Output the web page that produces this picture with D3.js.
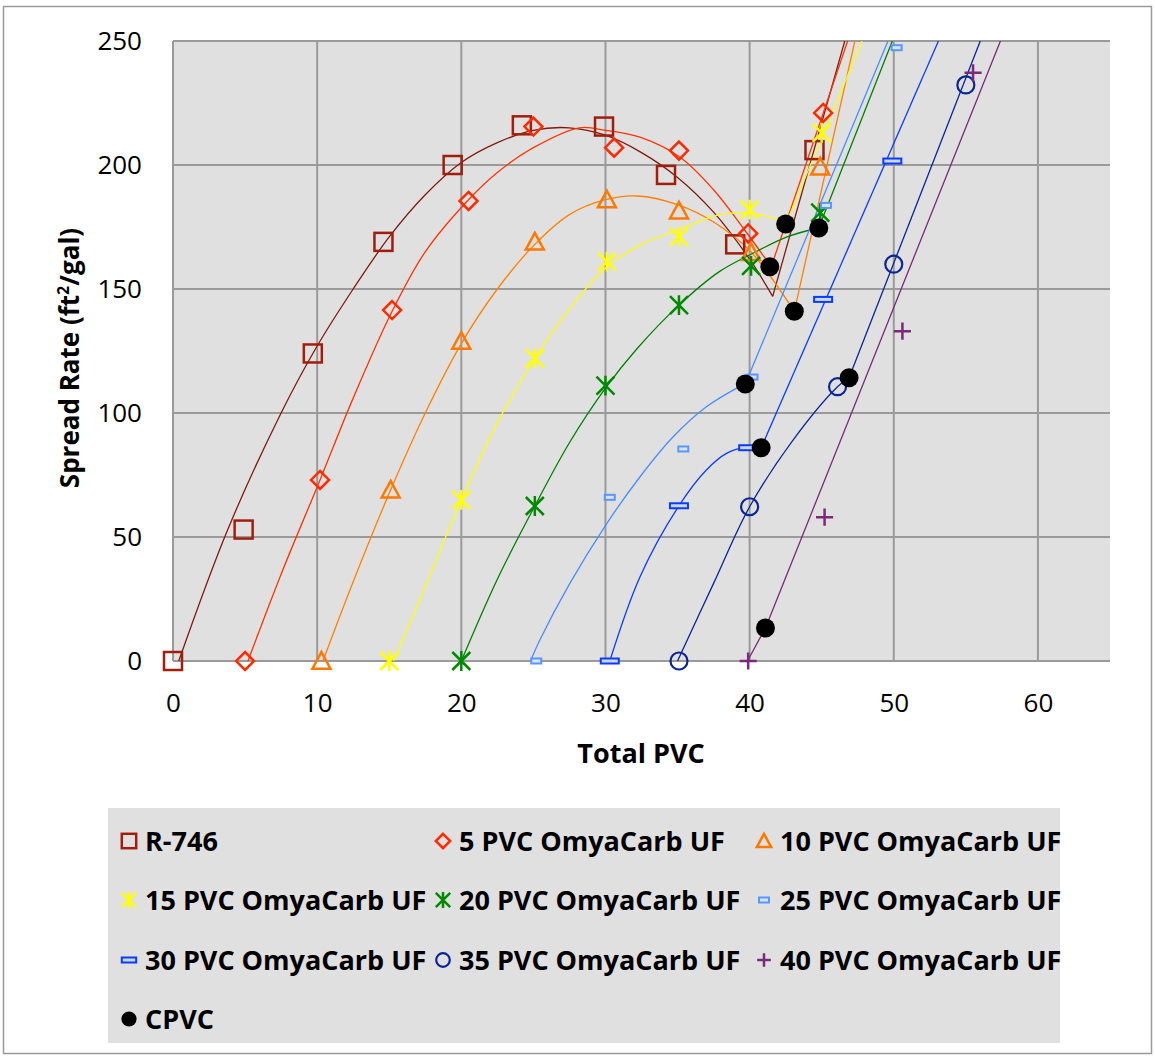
<!DOCTYPE html>
<html>
<head>
<meta charset="utf-8">
<script src="https://cdn.jsdelivr.net/npm/d3@7"></script>
<style>
  html, body { margin: 0; padding: 0; background: #fff; }
  svg { display: block; }
</style>
</head>
<body>
<svg id="chart"></svg>
<script>
const width = 1155;
const height = 1057;

// measured points (Total PVC, spread rate)
const r746Pts = [[0, 0], [4.9, 53], [9.7, 124], [14.6, 169], [19.4, 200], [24.2, 216], [29.9, 215.5], [34.2, 196], [39.0, 168], [44.5, 206]];
const pvc5Pts = [[5, 0], [10.2, 73], [15.2, 141.5], [20.5, 185.5], [25, 215.5], [30.6, 207], [35.1, 205.8], [39.9, 172.4], [45.1, 221]];
const pvc10Pts = [[10.3, 0], [15.1, 69], [20, 129], [25.1, 169], [30.1, 186], [35.1, 181.5], [40.1, 164.8], [44.9, 199.3]];
const pvc15Pts = [[15, 0], [20, 65], [25.1, 122], [30.1, 161], [35.1, 171], [40, 182], [45, 213]];
const pvc20Pts = [[20, 0], [25.1, 62.5], [30, 111], [35.1, 143.5], [40.1, 159.3], [44.9, 180.8]];
const pvc25Pts = [[25.2, 0], [30.3, 66], [35.4, 85.5], [40.2, 114.5], [45.3, 183.7], [50.2, 247.3]];
const pvc30Pts = [[30.3, 0], [35.1, 62.6], [39.9, 86], [45.1, 145.8], [49.9, 201.6]];
const pvc35Pts = [[35.1, 0], [40, 62.2], [46.1, 110.6], [50, 160], [55, 232.3]];
const pvc40Pts = [[39.9, 0], [45.2, 58], [50.6, 133], [55.5, 237.2]];
const cpvcPts = [[42.5, 176.2], [44.8, 174.6], [41.4, 159], [43.1, 141], [39.7, 111.7], [40.8, 86], [46.9, 114.2], [41.1, 13.3]];

// fitted curves, last point = CPVC corner
const r746Fit = [[0.4, 0], [3.8, 53], [7.5, 100], [10, 127], [12.5, 150], [15, 171], [17.5, 188], [20, 201], [22.5, 209], [25, 214], [27.5, 215], [30, 212], [32.5, 205], [35, 195], [37.5, 181], [40, 162], [41.6, 147]];
const pvc5Fit = [[5.2, 0], [7.5, 35], [10.2, 73], [12.5, 106], [15.2, 141], [17.5, 165], [20.5, 186], [22.5, 197], [25, 207], [28.2, 215], [30, 214], [32.5, 211], [35.2, 203], [37.5, 190], [39.5, 175], [41.5, 159]];
const pvc10Fit = [[10.4, 0], [12.5, 32], [15.1, 69], [17.5, 100], [20, 128], [22.5, 150], [25.1, 168], [27.5, 180], [30, 186], [32.2, 187.5], [35, 184], [37.5, 177], [40, 165.5], [43.1, 141]];
const pvc15Fit = [[15.3, 0], [17.5, 30], [20, 65], [22.5, 96], [25.1, 122], [27.5, 142], [30.1, 159], [32.5, 168], [35.1, 174], [37.9, 180], [40, 180.5], [41.9, 178], [42.5, 176]];
const pvc20Fit = [[20, 0], [22.5, 33], [25.1, 62.5], [27.5, 88], [30, 110], [32.2, 126], [35.1, 143.5], [37.9, 157], [40.1, 164], [42.6, 171], [44.8, 174.7]];
const pvc25Fit = [[24.8, 0], [25.45, 8.5], [27.5, 31], [30.1, 55.5], [32.4, 74.3], [34.7, 90.4], [37, 102.5], [39.1, 110], [39.7, 111.7]];
const pvc30Fit = [[30.3, 0], [32.4, 34], [35.1, 62.6], [37, 77], [38.4, 83.7], [39.8, 86.2], [40.8, 86]];
const pvc35Fit = [[35.0, 0], [37.5, 31.3], [40, 62.2], [43, 89], [46.1, 110.6], [46.9, 114.2]];
const pvc40Fit = [[39.85, 0], [41.1, 13.3]];

// where the straight part above CPVC leaves the top of the chart
const riseTopX = [46.6, 46.8, 47.3, 47.8, 49.9, 49.6, 53.1, 56.0, 57.4];

const seriesNames = ['R-746', '5 PVC OmyaCarb UF', '10 PVC OmyaCarb UF', '15 PVC OmyaCarb UF', '20 PVC OmyaCarb UF',
  '25 PVC OmyaCarb UF', '30 PVC OmyaCarb UF', '35 PVC OmyaCarb UF', '40 PVC OmyaCarb UF', 'CPVC'];
const markerTypes = ['square', 'diamond', 'triangle', 'star', 'star', 'dashS', 'dashL', 'circle', 'plus', 'dot'];
const markerColors = ['#a01e0c', '#ff2a00', '#ff7800', '#ffff00', '#008a00', '#5a96ff', '#0a3cff', '#0a2596', '#7a2a78', '#000'];
const lineColors = ['#7d1b0e', '#ff3300', '#ff8000', '#ffff00', '#008000', '#4a8cff', '#0a3cff', '#0a2596', '#7a2a78'];

const xTicks = [0, 10, 20, 30, 40, 50, 60];
const yTicks = [0, 50, 100, 150, 200, 250];

const allPts = [r746Pts, pvc5Pts, pvc10Pts, pvc15Pts, pvc20Pts, pvc25Pts, pvc30Pts, pvc35Pts, pvc40Pts, cpvcPts];
const allFits = [r746Fit, pvc5Fit, pvc10Fit, pvc15Fit, pvc20Fit, pvc25Fit, pvc30Fit, pvc35Fit, pvc40Fit];

const plot = { left: 173, top: 41, right: 1110, bottom: 661 };
const FONT = '"Open Sans", sans-serif';

const svg = d3.select('#chart').attr('width', width).attr('height', height);

const x = d3.scaleLinear().domain([0, 65]).range([plot.left, plot.right]);
const y = d3.scaleLinear().domain([0, 250]).range([plot.bottom, plot.top]);

// outer chart border
svg.append('rect')
  .attr('x', 3.5).attr('y', 6.5)
  .attr('width', 1148).attr('height', 1047)
  .attr('fill', '#fff').attr('stroke', '#9a9a9a').attr('stroke-width', 1.5);

// plot area
svg.append('rect')
  .attr('x', plot.left).attr('y', plot.top)
  .attr('width', plot.right - plot.left).attr('height', plot.bottom - plot.top)
  .attr('fill', '#e0e0e0');

svg.append('defs').append('clipPath').attr('id', 'clip')
  .append('rect')
  .attr('x', plot.left).attr('y', plot.top)
  .attr('width', plot.right - plot.left).attr('height', plot.bottom - plot.top);

// gridlines
const grid = svg.append('g').attr('stroke', '#9a9a9a').attr('stroke-width', 2);
grid.selectAll('.gx').data(xTicks).join('line')
  .attr('x1', d => x(d)).attr('x2', d => x(d))
  .attr('y1', plot.top).attr('y2', plot.bottom);
grid.selectAll('.gy').data(yTicks).join('line')
  .attr('x1', plot.left).attr('x2', plot.right)
  .attr('y1', d => y(d)).attr('y2', d => y(d));

// axes (labels only)
const xAxis = svg.append('g')
  .attr('transform', `translate(0,${plot.bottom + 33})`)
  .call(d3.axisBottom(x).tickValues(xTicks).tickSize(0).tickPadding(0));
const yAxis = svg.append('g')
  .attr('transform', `translate(${plot.left - 31},0)`)
  .call(d3.axisLeft(y).tickValues(yTicks).tickSize(0).tickPadding(0));
[xAxis, yAxis].forEach(a => {
  a.select('.domain').remove();
  a.selectAll('text')
    .attr('font-family', FONT)
    .attr('font-size', 26)
    .attr('fill', '#000');
});

svg.append('text')
  .attr('x', 641).attr('y', 763)
  .attr('text-anchor', 'middle')
  .attr('font-family', FONT)
  .attr('font-weight', 'bold').attr('font-size', 27)
  .text('Total PVC');

const yTitle = svg.append('text')
  .attr('transform', 'translate(79,358) rotate(-90)')
  .attr('text-anchor', 'middle')
  .attr('font-family', FONT)
  .attr('font-weight', 'bold').attr('font-size', 26);
yTitle.append('tspan').text('Spread Rate (ft');
yTitle.append('tspan').attr('font-size', 16).attr('dy', -10).text('2');
yTitle.append('tspan').attr('dy', 10).text('/gal)');

// fitted lines
const curveLine = d3.line().x(d => x(d[0])).y(d => y(d[1])).curve(d3.curveCatmullRom.alpha(0.5));
const lines = svg.append('g').attr('clip-path', 'url(#clip)').attr('fill', 'none').attr('stroke-width', 1.3);

allFits.forEach((fit, i) => {
  lines.append('path').attr('d', curveLine(fit)).attr('stroke', lineColors[i]);
  const corner = fit[fit.length - 1];
  lines.append('path')
    .attr('d', d3.line()([[x(corner[0]), y(corner[1])], [x(riseTopX[i]), y(250)]]))
    .attr('stroke', lineColors[i]);
});

// marker drawing
function drawMarker(g, type, color, s) {
  const w = 9 * s;
  if (type === 'square') {
    g.append('rect').attr('x', -w).attr('y', -w).attr('width', 2 * w).attr('height', 2 * w)
      .attr('fill', 'none').attr('stroke', color).attr('stroke-width', 2.5);
  } else if (type === 'diamond') {
    g.append('path').attr('d', `M0,${-w}L${w},0L0,${w}L${-w},0Z`)
      .attr('fill', 'none').attr('stroke', color).attr('stroke-width', 2.5);
  } else if (type === 'triangle') {
    g.append('path').attr('d', `M0,${-w}L${w},${w * 0.85}L${-w},${w * 0.85}Z`)
      .attr('fill', 'none').attr('stroke', color).attr('stroke-width', 2.5);
  } else if (type === 'star') {
    g.append('path').attr('d', `M${-w},${-w}L${w},${w}M${w},${-w}L${-w},${w}M0,${-w * 1.1}L0,${w * 1.1}`)
      .attr('fill', 'none').attr('stroke', color).attr('stroke-width', 2.5);
  } else if (type === 'dashS') {
    g.append('rect').attr('x', -5).attr('y', -2.5).attr('width', 10).attr('height', 5)
      .attr('fill', '#d6e4ff').attr('stroke', color).attr('stroke-width', 2);
  } else if (type === 'dashL') {
    g.append('rect').attr('x', -w).attr('y', -2.5).attr('width', 2 * w).attr('height', 5)
      .attr('fill', '#c8d8ff').attr('stroke', color).attr('stroke-width', 2);
  } else if (type === 'circle') {
    g.append('circle').attr('r', 8.5 * s)
      .attr('fill', 'none').attr('stroke', color).attr('stroke-width', 2.2);
  } else if (type === 'plus') {
    g.append('path').attr('d', `M${-w * 0.95},0L${w * 0.95},0M0,${-w * 0.95}L0,${w * 0.95}`)
      .attr('fill', 'none').attr('stroke', color).attr('stroke-width', 2.5);
  } else if (type === 'dot') {
    g.append('circle').attr('r', 9.5 * s).attr('fill', color);
  }
}

const markers = svg.append('g');
allPts.forEach((pts, i) => {
  pts.forEach(p => {
    const g = markers.append('g').attr('transform', `translate(${x(p[0])},${y(p[1])})`);
    drawMarker(g, markerTypes[i], markerColors[i], 1);
  });
});

// legend
const legend = svg.append('g');
legend.append('rect')
  .attr('x', 108).attr('y', 808).attr('width', 952).attr('height', 235)
  .attr('fill', '#e0e0e0');

const legendCols = [129, 443, 764];
const legendRows = [841, 900, 960, 1019];
seriesNames.forEach((name, i) => {
  const cx = legendCols[i % 3];
  const cy = legendRows[Math.floor(i / 3)];
  const g = legend.append('g').attr('transform', `translate(${cx},${cy})`);
  drawMarker(g, markerTypes[i], markerColors[i], 0.8);
  legend.append('text')
    .attr('x', cx + 16).attr('y', cy + 10)
    .attr('font-family', FONT)
    .attr('font-weight', 'bold').attr('font-size', 27)
    .text(name);
});
</script>
</body>
</html>
